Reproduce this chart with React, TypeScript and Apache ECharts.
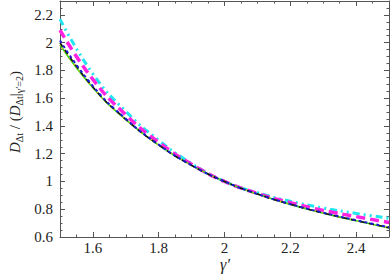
import React, { useEffect, useRef } from "react";
import * as echarts from "echarts";

const gammaValues = [1.5, 1.6, 1.7, 1.8, 1.9, 2.0, 2.1, 2.2, 2.3, 2.4, 2.5];
const greenSolid = [1.985, 1.675, 1.445, 1.262, 1.116, 1.0, 0.909, 0.835, 0.772, 0.717, 0.665];
const orangeDotted = [1.985, 1.675, 1.445, 1.262, 1.116, 1.0, 0.909, 0.835, 0.772, 0.717, 0.665];
const blackDashed = [2.0, 1.68, 1.448, 1.263, 1.116, 1.0, 0.91, 0.836, 0.773, 0.719, 0.667];
const blueDashed = [2.015, 1.687, 1.451, 1.265, 1.117, 1.0, 0.91, 0.837, 0.775, 0.721, 0.67];
const magentaDashed = [2.09, 1.735, 1.48, 1.282, 1.124, 1.0, 0.914, 0.847, 0.792, 0.747, 0.705];
const cyanDashDot = [2.17, 1.775, 1.505, 1.297, 1.129, 1.0, 0.919, 0.857, 0.809, 0.77, 0.735];

const xMajorTicks = [1.6, 1.8, 2.0, 2.2, 2.4];
const xMinorTicks = [1.55, 1.65, 1.7, 1.75, 1.85, 1.9, 1.95, 2.05, 2.1, 2.15, 2.25, 2.3, 2.35, 2.45];
const yMajorTicks = [0.6, 0.8, 1.0, 1.2, 1.4, 1.6, 1.8, 2.0, 2.2];
const yMinorTicks = [0.65, 0.7, 0.75, 0.85, 0.9, 0.95, 1.05, 1.1, 1.15, 1.25, 1.3, 1.35, 1.45, 1.5, 1.55, 1.65, 1.7, 1.75, 1.85, 1.9, 1.95, 2.05, 2.1, 2.15, 2.25];

const FONT = "Liberation Serif";
const AXIS_COLOR = "#555";

export default function App() {
  const ref = useRef<HTMLDivElement>(null);
  useEffect(() => {
    if (!ref.current) return;
    const chart = echarts.init(ref.current, null, { renderer: "svg" });
    const fmt = (v: number) => String(Math.round(v * 10) / 10);
    const mkX = (pos: "bottom" | "top", ticks: number[], len: number, labels: boolean, line: boolean) => ({
      type: "value",
      position: pos,
      min: 1.5,
      max: 2.5,
      axisLine: { show: line, onZero: false, lineStyle: { color: AXIS_COLOR, width: 1 } },
      axisTick: { show: true, inside: true, length: len, customValues: ticks, lineStyle: { color: AXIS_COLOR } },
      axisLabel: labels
        ? { show: true, customValues: ticks, formatter: fmt, fontFamily: FONT, fontSize: 15, color: "#222", margin: 3 }
        : { show: false },
      splitLine: { show: false },
    });
    const mkY = (pos: "left" | "right", ticks: number[], len: number, labels: boolean, line: boolean) => ({
      type: "value",
      position: pos,
      min: 0.6,
      max: 2.3,
      axisLine: { show: line, onZero: false, lineStyle: { color: AXIS_COLOR, width: 1 } },
      axisTick: { show: true, inside: true, length: len, customValues: ticks, lineStyle: { color: AXIS_COLOR } },
      axisLabel: labels
        ? { show: true, customValues: ticks, formatter: fmt, fontFamily: FONT, fontSize: 15, color: "#222", margin: 7 }
        : { show: false },
      splitLine: { show: false },
    });
    const mk = (name: string, data: number[], color: string, width: number, type: any, z: number) => ({
      name,
      type: "line",
      data: gammaValues.map((g, i) => [g, data[i]]),
      smooth: 0.5,
      symbol: "none",
      z,
      lineStyle: { color, width, type },
    });
    chart.setOption({
      animation: false,
      backgroundColor: "#fff",
      grid: { left: 60, right: 1, top: 1, bottom: 40 },
      xAxis: [
        mkX("bottom", xMajorTicks, 5, true, true),
        mkX("bottom", xMinorTicks, 2.5, false, false),
        mkX("top", xMajorTicks, 5, false, true),
        mkX("top", xMinorTicks, 2.5, false, false),
      ],
      yAxis: [
        mkY("left", yMajorTicks, 5, true, true),
        mkY("left", yMinorTicks, 2.5, false, false),
        mkY("right", yMajorTicks, 5, false, true),
        mkY("right", yMinorTicks, 2.5, false, false),
      ],
      series: [
        mk("cyan", cyanDashDot, "#22e5f0", 3, [7, 4, 2, 4, 2, 4], 2),
        mk("magenta", magentaDashed, "#ff22e0", 3.5, [9, 5], 3),
        mk("green", greenSolid, "#33dd22", 1.6, "solid", 4),
        mk("orange", orangeDotted, "#ffb000", 1.6, [1, 3], 5),
        mk("black", blackDashed, "#111111", 1.6, [5, 4], 6),
        mk("blue", blueDashed, "#1a1ad0", 2, [3, 3], 7),
      ],
      graphic: [
        {
          type: "text",
          x: 15,
          y: 112,
          rotation: Math.PI / 2,
          style: {
            text: "{i|D}{s|Δt}{n| / (}{i|D}{s|Δt}{n||}{s|γ′=2}{n|)}",
            align: "center",
            verticalAlign: "middle",
            fill: "#222",
            rich: {
              i: { fontFamily: FONT, fontSize: 15, fontStyle: "italic", lineHeight: 18, verticalAlign: "middle" },
              n: { fontFamily: FONT, fontSize: 15, lineHeight: 18, verticalAlign: "middle" },
              s: { fontFamily: FONT, fontSize: 10, lineHeight: 18, verticalAlign: "bottom", padding: [6, 0, 0, 0] },
            },
          },
        },
        {
          type: "text",
          x: 225,
          y: 264,
          style: {
            text: "γ′",
            align: "center",
            verticalAlign: "middle",
            fontFamily: FONT,
            fontSize: 16,
            fontStyle: "italic",
            fill: "#222",
          },
        },
      ],
    });
    return () => chart.dispose();
  }, []);
  return <div ref={ref} style={{ position: "fixed", left: 0, top: 0, width: 390, height: 277 }} />;
}
